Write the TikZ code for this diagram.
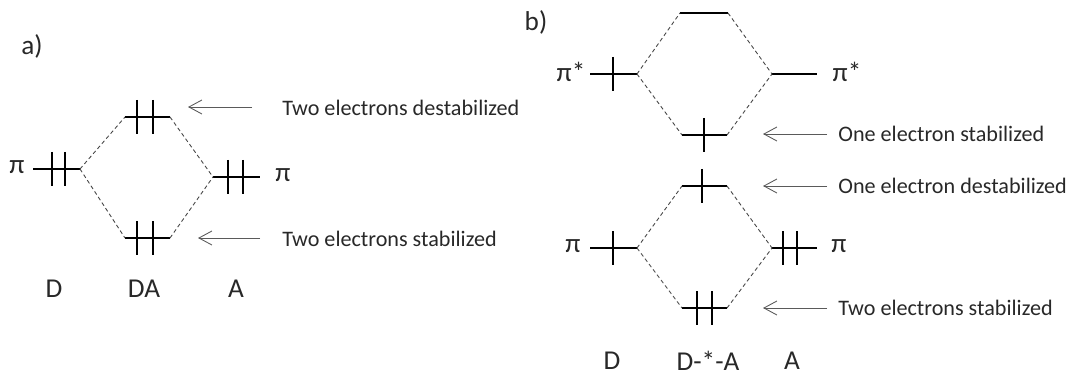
\documentclass[tikz,border=0pt]{standalone}
\usepackage{fontspec}
\setmainfont{Carlito}
\usepackage{tikz}
\usetikzlibrary{arrows.meta}
\definecolor{LinkGray}{RGB}{70,70,70}
\definecolor{NoteGray}{RGB}{90,90,90}
\definecolor{TextGray}{RGB}{40,40,40}
\tikzset{
  lvl/.style={line width=1.2pt,black},
  elec/.style={line width=1.2pt,black},
  link/.style={dashed,dash pattern=on 2.2pt off 1.6pt,line width=0.5pt,LinkGray},
  note/.style={-{Straight Barb[length=2.6mm,width=2.8mm]},line width=0.5pt,NoteGray},
  ntxt/.style={anchor=west,inner sep=0pt,font=\fontsize{12.6}{14}\selectfont,text=TextGray},
  lbl/.style={inner sep=0pt,font=\fontsize{15.5}{17}\selectfont,text=TextGray},
}

\begin{document}
\begin{tikzpicture}[x=0.2mm,y=-0.2mm]
  \useasboundingbox (0,0) rectangle (1070,376);
  % a) panel
  \node[lbl] (atag) at (32,46) {a)};
  \coordinate (aDl) at (33,169);  \coordinate (aDr) at (80,169);
  \coordinate (aUl) at (125,117); \coordinate (aUr) at (170,117);
  \coordinate (aLl) at (125,238); \coordinate (aLr) at (170,238);
  \coordinate (aAl) at (213,177); \coordinate (aAr) at (260,177);
  \draw[lvl] (aDl) -- (aDr);
  \draw[lvl] (aUl) -- (aUr);
  \draw[lvl] (aLl) -- (aLr);
  \draw[lvl] (aAl) -- (aAr);
  \foreach \x in {52,65} \draw[elec] (\x,152) -- ++(0,34);
  \foreach \x in {137,153} \draw[elec] (\x,100) -- ++(0,34);
  \foreach \x in {137,153} \draw[elec] (\x,221) -- ++(0,34);
  \foreach \x in {228,243} \draw[elec] (\x,160) -- ++(0,34);
  \draw[link] (aDr) -- (aUl);
  \draw[link] (aDr) -- (aLl);
  \draw[link] (aUr) -- (aAl);
  \draw[link] (aLr) -- (aAl);
  \node[lbl] (aDpi) at (17,167) {π};
  \node[lbl] (aApi) at (283,175) {π};
  \node[ntxt] (aUtxt) at (282,108) {Two electrons destabilized};
  \node[ntxt] (aLtxt) at (282,239) {Two electrons stabilized};
  \coordinate (aUtail) at (252,107); \coordinate (aUtip) at (188,107);
  \coordinate (aLtail) at (260,238); \coordinate (aLtip) at (198,238);
  \draw[note] (aUtail) -- (aUtip);
  \draw[note] (aLtail) -- (aLtip);
  \node[lbl] (aD)  at (54,289)  {D};
  \node[lbl] (aDA) at (144,289) {DA};
  \node[lbl] (aA)  at (236,289) {A};

  % b) panel
  \node[lbl] (btag) at (536,22) {b)};
  \coordinate (bTl) at (680,13);  \coordinate (bTr) at (728,13);
  \coordinate (bSl) at (590,74);  \coordinate (bSr) at (637,74);
  \coordinate (bRl) at (772,74);  \coordinate (bRr) at (817,74);
  \coordinate (bMl) at (682,135); \coordinate (bMr) at (727,135);
  \coordinate (bNl) at (682,186); \coordinate (bNr) at (727,186);
  \coordinate (bPl) at (590,248); \coordinate (bPr) at (637,248);
  \coordinate (bQl) at (772,248); \coordinate (bQr) at (817,248);
  \coordinate (bBl) at (682,308); \coordinate (bBr) at (727,308);
  \foreach \a in {bT,bS,bR,bM,bN,bP,bQ,bB}
    \draw[lvl] (\a l) -- (\a r);
  \draw[elec] (613,57) -- ++(0,34);
  \draw[elec] (704,118) -- ++(0,34);
  \draw[elec] (702,169) -- ++(0,34);
  \draw[elec] (613,231) -- ++(0,34);
  \foreach \x in {783,797} \draw[elec] (\x,231) -- ++(0,34);
  \foreach \x in {697,712} \draw[elec] (\x,291) -- ++(0,34);
  \draw[link] (bSr) -- (bTl);
  \draw[link] (bTr) -- (bRl);
  \draw[link] (bSr) -- (bMl);
  \draw[link] (bMr) -- (bRl);
  \draw[link] (bPr) -- (bNl);
  \draw[link] (bNr) -- (bQl);
  \draw[link] (bPr) -- (bBl);
  \draw[link] (bBr) -- (bQl);
  \node[lbl] (bSpi) at (571,72)  {π*};
  \node[lbl] (bRpi) at (847,72)  {π*};
  \node[lbl] (bPpi) at (573,246) {π};
  \node[lbl] (bQpi) at (839,246) {π};
  \node[ntxt] (bMtxt) at (838,134) {One electron stabilized};
  \node[ntxt] (bNtxt) at (838,186) {One electron destabilized};
  \node[ntxt] (bBtxt) at (838,308) {Two electrons stabilized};
  \coordinate (bMtail) at (827,134); \coordinate (bMtip) at (763,134);
  \coordinate (bNtail) at (827,186); \coordinate (bNtip) at (763,186);
  \coordinate (bBtail) at (827,308); \coordinate (bBtip) at (763,308);
  \draw[note] (bMtail) -- (bMtip);
  \draw[note] (bNtail) -- (bNtip);
  \draw[note] (bBtail) -- (bBtip);
  \node[lbl] (bD)  at (612,361) {D};
  \node[lbl] (bDA) at (708,361) {D-*-A};
  \node[lbl] (bA)  at (792,361) {A};
\end{tikzpicture}
\end{document}
